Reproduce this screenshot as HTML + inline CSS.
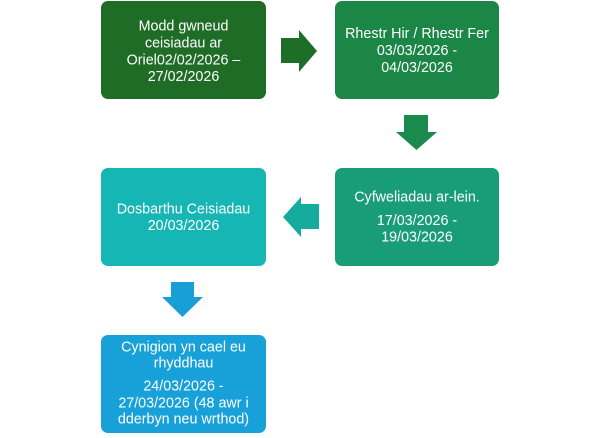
<!DOCTYPE html>
<html>
<head>
<meta charset="utf-8">
<style>
html,body{margin:0;padding:0;background:#fff;}
svg{display:block;}
text{font-family:"Liberation Sans",sans-serif;font-size:14.3px;fill:#fff;text-anchor:middle;}
</style>
</head>
<body>
<svg width="600" height="438" viewBox="0 0 600 438" xmlns="http://www.w3.org/2000/svg">
  <!-- Box 1 -->
  <rect x="101" y="1" width="165" height="98" rx="7" fill="#1e6c26"/>
  <text x="183.5" y="30.5">Modd gwneud</text>
  <text x="183.5" y="47.5">ceisiadau ar</text>
  <text x="183.5" y="64.5">Oriel02/02/2026 –</text>
  <text x="183.5" y="81">27/02/2026</text>

  <!-- Right arrow -->
  <polygon points="281,38 299,38 299,30 317,51 299,72 299,63 281,63" fill="#1f6e27"/>

  <!-- Box 2 -->
  <rect x="335" y="1" width="164" height="98" rx="7" fill="#1b8646"/>
  <text x="417" y="38">Rhestr Hir / Rhestr Fer</text>
  <text x="417" y="55">03/03/2026 -</text>
  <text x="417" y="72">04/03/2026</text>

  <!-- Down arrow 1 -->
  <polygon points="404,115 428,115 428,132 437,132 416.5,150 396,132 404,132" fill="#1b8a4d"/>

  <!-- Box 3 -->
  <rect x="335" y="168" width="164" height="98" rx="7" fill="#189d77"/>
  <text x="417" y="201.5">Cyfweliadau ar-lein.</text>
  <text x="417" y="225">17/03/2026 -</text>
  <text x="417" y="241.5">19/03/2026</text>

  <!-- Left arrow -->
  <polygon points="319,204 301,204 301,197 283,217 301,237 301,229 319,229" fill="#15ab9d"/>

  <!-- Box 4 -->
  <rect x="101" y="168" width="165" height="98" rx="7" fill="#15b6b4"/>
  <text x="183.5" y="213.5">Dosbarthu Ceisiadau</text>
  <text x="183.5" y="230">20/03/2026</text>

  <!-- Down arrow 2 -->
  <polygon points="171,282 194,282 194,297 203,297 182.5,317 162,297 171,297" fill="#179fd6"/>

  <!-- Box 5 -->
  <rect x="101" y="335" width="165" height="98" rx="7" fill="#18a0d8"/>
  <text x="183.5" y="351.5">Cynigion yn cael eu</text>
  <text x="183.5" y="367.5">rhyddhau</text>
  <text x="183.5" y="390.5">24/03/2026 -</text>
  <text x="183.5" y="407.5">27/03/2026 (48 awr i</text>
  <text x="183.5" y="423.5">dderbyn neu wrthod)</text>
</svg>
</body>
</html>
